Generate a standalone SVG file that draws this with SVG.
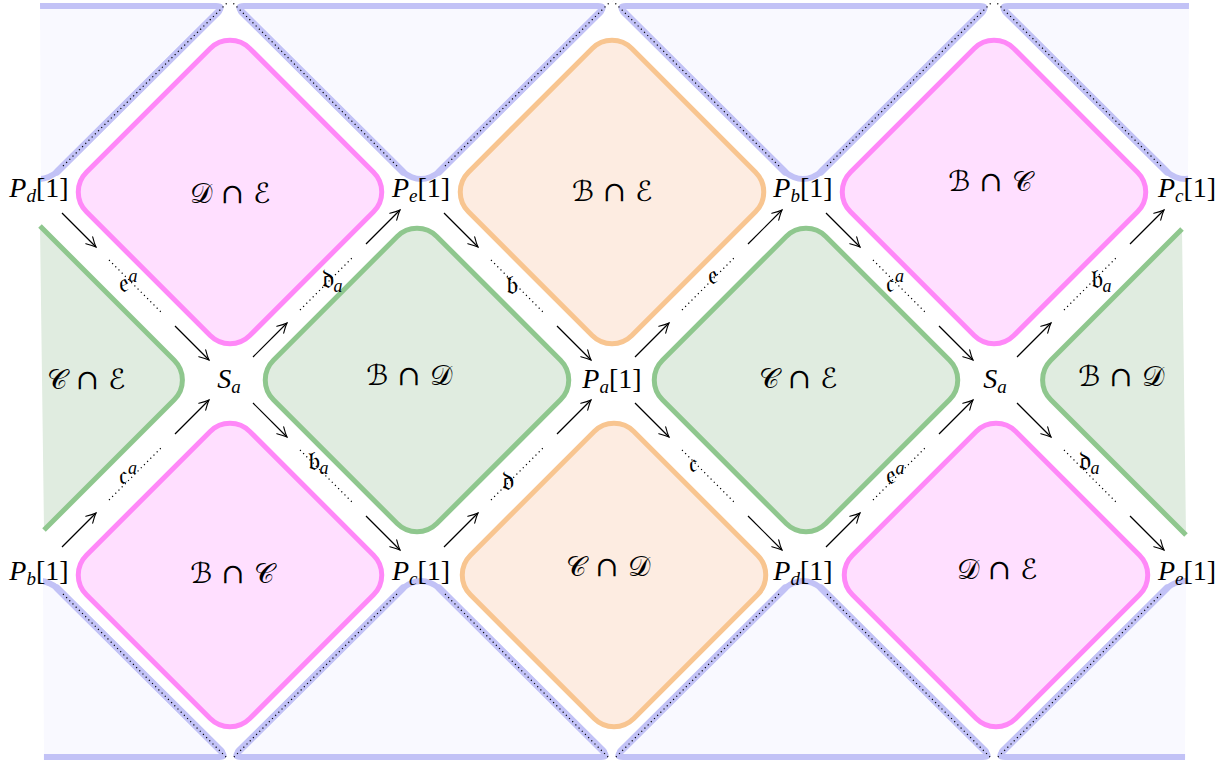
<svg xmlns="http://www.w3.org/2000/svg" width="1224" height="767" viewBox="0 0 1224 767">
<defs>
<clipPath id="frame"><polygon points="40,0 1189,0 1185,767 44,767"/></clipPath>
<marker id="ah" markerWidth="14" markerHeight="14" viewBox="-12 -7 14 14" refX="0" refY="0" orient="auto" markerUnits="userSpaceOnUse">
<path d="M-9.5,-4.8 Q-3.5,-1.2 0,0 Q-3.5,1.2 -9.5,4.8" fill="none" stroke="#000" stroke-width="1.1" stroke-linecap="round"/>
</marker>
</defs>
<style>
.blue{fill:#f9f9ff;stroke:#c2c2f6;stroke-width:6;stroke-linejoin:round}
.bline{fill:none;stroke:#c2c2f6;stroke-width:7;stroke-linecap:round}
.pink{fill:#ffdfff;stroke:#ff88f8;stroke-width:5}
.orange{fill:#fdece1;stroke:#f8c590;stroke-width:5}
.green{fill:#e0ece0;stroke:#8fc78e;stroke-width:5}
.gfill{fill:#e0ece0;stroke:none}
.gline{fill:none;stroke:#8fc78e;stroke-width:5;stroke-linejoin:round}
.dot{stroke:#000;stroke-width:1.2;stroke-dasharray:1.2 3.3;fill:none}
.arr{stroke:#000;stroke-width:1.2;fill:none;marker-end:url(#ah)}
.lab{font-family:'Liberation Serif',serif;font-size:28px;fill:#000;text-anchor:middle}
.it{font-style:italic}
.reg{font-family:'DejaVu Serif','DejaVu Sans','Liberation Serif',serif;font-size:28px;fill:#000;text-anchor:middle}
.edge{font-family:'DejaVu Serif','DejaVu Sans','Liberation Serif',serif;font-size:27px;fill:#000;text-anchor:middle}
.sm{font-family:'Liberation Serif',serif;font-style:italic;font-size:18px}
</style>

<g id="blue-cells" clip-path="url(#frame)">
<path id="blue-t0" class="blue" d="M-138,6 L216,6 Q224,6 218.3,11.7 L57,172 Q39,186 21,172 L-140.3,11.7 Q-146,6 -138,6 Z"/>
<path id="blue-t1" class="blue" d="M244,6 L598,6 Q606,6 600.3,11.7 L439,172 Q421,186 403,172 L241.7,11.7 Q236,6 244,6 Z"/>
<path id="blue-t2" class="blue" d="M626,6 L980,6 Q988,6 982.3,11.7 L821,172 Q803,186 785,172 L623.7,11.7 Q618,6 626,6 Z"/>
<path id="blue-t3" class="blue" d="M1008,6 L1362,6 Q1370,6 1364.3,11.7 L1203,172 Q1185,186 1167,172 L1005.7,11.7 Q1000,6 1008,6 Z"/>
<path id="blue-b0" class="blue" d="M-141,757 L219,757 Q227,757 221.3,751.3 L57,588 Q39,574 21,588 L-143.3,751.3 Q-149,757 -141,757 Z"/>
<path id="blue-b1" class="blue" d="M241,757 L601,757 Q609,757 603.3,751.3 L439,588 Q421,574 403,588 L238.7,751.3 Q233,757 241,757 Z"/>
<path id="blue-b2" class="blue" d="M623,757 L983,757 Q991,757 985.3,751.3 L821,588 Q803,574 785,588 L620.7,751.3 Q615,757 623,757 Z"/>
<path id="blue-b3" class="blue" d="M1005,757 L1365,757 Q1373,757 1367.3,751.3 L1203,588 Q1185,574 1167,588 L1002.7,751.3 Q997,757 1005,757 Z"/>
<line class="bline" x1="57" y1="172" x2="218.3" y2="11.7"/>
<line class="bline" x1="403" y1="172" x2="241.7" y2="11.7"/>
<line class="bline" x1="439" y1="172" x2="600.3" y2="11.7"/>
<line class="bline" x1="785" y1="172" x2="623.7" y2="11.7"/>
<line class="bline" x1="821" y1="172" x2="982.3" y2="11.7"/>
<line class="bline" x1="1167" y1="172" x2="1005.7" y2="11.7"/>
<line class="bline" x1="57" y1="588" x2="221.3" y2="751.3"/>
<line class="bline" x1="403" y1="588" x2="238.7" y2="751.3"/>
<line class="bline" x1="439" y1="588" x2="603.3" y2="751.3"/>
<line class="bline" x1="785" y1="588" x2="620.7" y2="751.3"/>
<line class="bline" x1="821" y1="588" x2="985.3" y2="751.3"/>
<line class="bline" x1="1167" y1="588" x2="1002.7" y2="751.3"/>
</g>

<g id="blue-dots" clip-path="url(#frame)">
<line class="dot" x1="63" y1="166" x2="229" y2="1"/>
<line class="dot" x1="397" y1="166" x2="231" y2="1"/>
<line class="dot" x1="445" y1="166" x2="611" y2="1"/>
<line class="dot" x1="779" y1="166" x2="613" y2="1"/>
<line class="dot" x1="827" y1="166" x2="993" y2="1"/>
<line class="dot" x1="1161" y1="166" x2="995" y2="1"/>
<line class="dot" x1="63" y1="594" x2="228" y2="759"/>
<line class="dot" x1="397" y1="594" x2="232" y2="759"/>
<line class="dot" x1="445" y1="594" x2="610" y2="759"/>
<line class="dot" x1="779" y1="594" x2="614" y2="759"/>
<line class="dot" x1="827" y1="594" x2="992" y2="759"/>
<line class="dot" x1="1161" y1="594" x2="996" y2="759"/>
</g>

<g id="node-DE-top">
<rect class="pink" x="-115.5" y="-115.5" width="231" height="231" rx="28" transform="translate(230,192) rotate(45)"/>
<text class="reg" x="230" y="203">𝒟 ∩ ℰ</text>
</g>
<g id="node-BE-top">
<rect class="orange" x="-115.5" y="-115.5" width="231" height="231" rx="28" transform="translate(612,192) rotate(45)"/>
<text class="reg" x="612" y="201">ℬ ∩ ℰ</text>
</g>
<g id="node-BC-top">
<rect class="pink" x="-115.5" y="-115.5" width="231" height="231" rx="28" transform="translate(994,192) rotate(45)"/>
<text class="reg" x="990" y="191">ℬ ∩ 𝒞</text>
</g>
<g id="node-CE-left">
<path class="gfill" d="M40,226 L174.2,360.2 A28,28 0 0 1 174.2,399.8 L44,530 Z"/>
<path class="gline" d="M40,226 L174.2,360.2 A28,28 0 0 1 174.2,399.8 L44,530"/>
<text class="reg" x="86" y="389">𝒞 ∩ ℰ</text>
</g>
<g id="node-BD-mid">
<rect class="green" x="-115.5" y="-115.5" width="231" height="231" rx="28" transform="translate(417,380) rotate(45)"/>
<text class="reg" x="409" y="385">ℬ ∩ 𝒟</text>
</g>
<g id="node-CE-mid">
<rect class="green" x="-115.5" y="-115.5" width="231" height="231" rx="28" transform="translate(806,380) rotate(45)"/>
<text class="reg" x="798" y="388">𝒞 ∩ ℰ</text>
</g>
<g id="node-BD-right">
<path class="gfill" d="M1182,229 L1050.8,360.2 A28,28 0 0 0 1050.8,399.8 L1186,535 Z"/>
<path class="gline" d="M1182,229 L1050.8,360.2 A28,28 0 0 0 1050.8,399.8 L1186,535"/>
<text class="reg" x="1121" y="386">ℬ ∩ 𝒟</text>
</g>
<g id="node-BC-bot">
<rect class="pink" x="-115.5" y="-115.5" width="231" height="231" rx="28" transform="translate(230,575) rotate(45)"/>
<text class="reg" x="232" y="583">ℬ ∩ 𝒞</text>
</g>
<g id="node-CD-bot">
<rect class="orange" x="-115.5" y="-115.5" width="231" height="231" rx="28" transform="translate(614,575) rotate(45)"/>
<text class="reg" x="608" y="576">𝒞 ∩ 𝒟</text>
</g>
<g id="node-DE-bot">
<rect class="pink" x="-115.5" y="-115.5" width="231" height="231" rx="28" transform="translate(996,575) rotate(45)"/>
<text class="reg" x="997" y="579">𝒟 ∩ ℰ</text>
</g>

<g id="vertex-Pd-top"><text class="lab" x="39" y="197"><tspan class="it">P</tspan><tspan class="it" font-size="19" dy="5">d</tspan><tspan dy="-5">[1]</tspan></text></g>
<g id="vertex-Pe-top"><text class="lab" x="421" y="197"><tspan class="it">P</tspan><tspan class="it" font-size="19" dy="5">e</tspan><tspan dy="-5">[1]</tspan></text></g>
<g id="vertex-Pb-top"><text class="lab" x="803" y="197"><tspan class="it">P</tspan><tspan class="it" font-size="19" dy="5">b</tspan><tspan dy="-5">[1]</tspan></text></g>
<g id="vertex-Pc-top"><text class="lab" x="1187" y="197"><tspan class="it">P</tspan><tspan class="it" font-size="19" dy="5">c</tspan><tspan dy="-5">[1]</tspan></text></g>
<g id="vertex-Sa-left"><text class="lab" x="229" y="388"><tspan class="it">S</tspan><tspan class="it" font-size="19" dy="5">a</tspan></text></g>
<g id="vertex-Pa"><text class="lab" x="612" y="388"><tspan class="it">P</tspan><tspan class="it" font-size="19" dy="5">a</tspan><tspan dy="-5">[1]</tspan></text></g>
<g id="vertex-Sa-right"><text class="lab" x="995" y="388"><tspan class="it">S</tspan><tspan class="it" font-size="19" dy="5">a</tspan></text></g>
<g id="vertex-Pb-bot"><text class="lab" x="39" y="580"><tspan class="it">P</tspan><tspan class="it" font-size="19" dy="5">b</tspan><tspan dy="-5">[1]</tspan></text></g>
<g id="vertex-Pc-bot"><text class="lab" x="421" y="580"><tspan class="it">P</tspan><tspan class="it" font-size="19" dy="5">c</tspan><tspan dy="-5">[1]</tspan></text></g>
<g id="vertex-Pd-bot"><text class="lab" x="803" y="580"><tspan class="it">P</tspan><tspan class="it" font-size="19" dy="5">d</tspan><tspan dy="-5">[1]</tspan></text></g>
<g id="vertex-Pe-bot"><text class="lab" x="1187" y="580"><tspan class="it">P</tspan><tspan class="it" font-size="19" dy="5">e</tspan><tspan dy="-5">[1]</tspan></text></g>

<g id="connectors">
<line class="arr" x1="62" y1="213" x2="96" y2="247"/><line class="dot" x1="109" y1="260" x2="161" y2="312"/><line class="arr" x1="175" y1="326" x2="209" y2="360"/>
<line class="arr" x1="62" y1="547" x2="96" y2="513"/><line class="dot" x1="109" y1="500" x2="161" y2="448"/><line class="arr" x1="175" y1="434" x2="209" y2="400"/>
<line class="arr" x1="253" y1="357" x2="287" y2="323"/><line class="dot" x1="300" y1="310" x2="352" y2="258"/><line class="arr" x1="366" y1="244" x2="400" y2="210"/>
<line class="arr" x1="253" y1="403" x2="287" y2="437"/><line class="dot" x1="300" y1="450" x2="352" y2="502"/><line class="arr" x1="366" y1="516" x2="400" y2="550"/>
<line class="arr" x1="444" y1="213" x2="478" y2="247"/><line class="dot" x1="491" y1="260" x2="543" y2="312"/><line class="arr" x1="557" y1="326" x2="591" y2="360"/>
<line class="arr" x1="444" y1="547" x2="478" y2="513"/><line class="dot" x1="491" y1="500" x2="543" y2="448"/><line class="arr" x1="557" y1="434" x2="591" y2="400"/>
<line class="arr" x1="635" y1="357" x2="669" y2="323"/><line class="dot" x1="682" y1="310" x2="734" y2="258"/><line class="arr" x1="748" y1="244" x2="782" y2="210"/>
<line class="arr" x1="635" y1="403" x2="669" y2="437"/><line class="dot" x1="682" y1="450" x2="734" y2="502"/><line class="arr" x1="748" y1="516" x2="782" y2="550"/>
<line class="arr" x1="826" y1="213" x2="860" y2="247"/><line class="dot" x1="873" y1="260" x2="925" y2="312"/><line class="arr" x1="939" y1="326" x2="973" y2="360"/>
<line class="arr" x1="826" y1="547" x2="860" y2="513"/><line class="dot" x1="873" y1="500" x2="925" y2="448"/><line class="arr" x1="939" y1="434" x2="973" y2="400"/>
<line class="arr" x1="1017" y1="357" x2="1051" y2="323"/><line class="dot" x1="1064" y1="310" x2="1116" y2="258"/><line class="arr" x1="1130" y1="244" x2="1164" y2="210"/>
<line class="arr" x1="1017" y1="403" x2="1051" y2="437"/><line class="dot" x1="1064" y1="450" x2="1116" y2="502"/><line class="arr" x1="1130" y1="516" x2="1164" y2="550"/>
<text class="edge" x="128" y="292">𝔢<tspan class="sm" dy="-10">a</tspan></text>
<text class="edge" x="128" y="484">𝔠<tspan class="sm" dy="-10">a</tspan></text>
<text class="edge" x="332" y="288">𝔡<tspan class="sm" dy="4">a</tspan></text>
<text class="edge" x="318" y="470">𝔟<tspan class="sm" dy="4">a</tspan></text>
<text class="edge" x="512" y="294">𝔟</text>
<text class="edge" x="508" y="490">𝔡</text>
<text class="edge" x="713" y="284">𝔢</text>
<text class="edge" x="693" y="472">𝔠</text>
<text class="edge" x="895" y="292">𝔠<tspan class="sm" dy="-10">a</tspan></text>
<text class="edge" x="895" y="484">𝔢<tspan class="sm" dy="-10">a</tspan></text>
<text class="edge" x="1101" y="288">𝔟<tspan class="sm" dy="4">a</tspan></text>
<text class="edge" x="1089" y="470">𝔡<tspan class="sm" dy="4">a</tspan></text>
</g>
</svg>
